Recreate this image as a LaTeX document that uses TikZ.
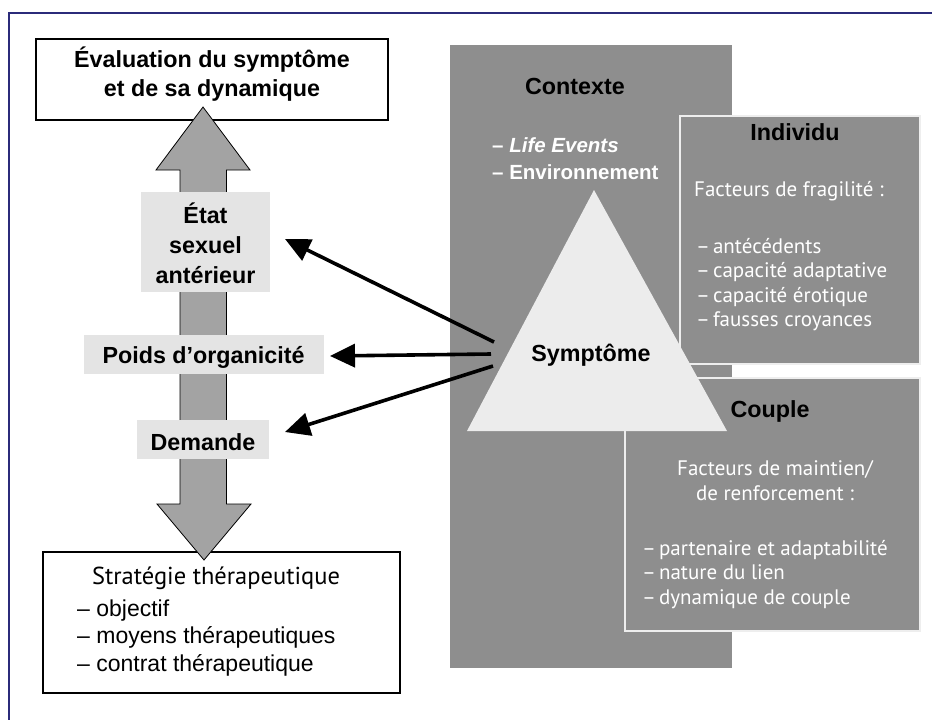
\documentclass[tikz,border=0pt]{standalone}
\usepackage{fontspec}
\setmainfont{Liberation Sans}
\newfontfamily\myr{PT Sans}
\usetikzlibrary{arrows.meta}
\definecolor{frameblue}{HTML}{2B2B7A}
\definecolor{darkbg}{HTML}{8E8E8E}
\definecolor{lightbox}{HTML}{E4E4E4}
\definecolor{trifill}{HTML}{ECECEC}
\definecolor{shaftgray}{HTML}{A3A3A3}
\newcommand{\dsh}{–\kern3pt}
\tikzset{
  bigfont/.style={font=\fontsize{23.3}{29}\selectfont\bfseries},
  ctxfont/.style={font=\fontsize{20.5}{27}\selectfont\bfseries},
  myrfont/.style={font=\myr\fontsize{21}{24.5}\selectfont},
  listfont/.style={font=\fontsize{23}{27.5}\selectfont},
  outbox/.style={draw=black, line width=1.6pt, fill=white, inner sep=0pt},
  lblbox/.style={fill=lightbox, inner sep=0pt},
  panel/.style={fill=darkbg, draw=white!85!darkbg, line width=1.2pt, inner sep=0pt},
  ptr/.style={line width=3.6pt, -{Triangle[length=25pt,width=23pt]}}
}
\begin{document}
\begin{tikzpicture}[x=1pt,y=-1pt]
\useasboundingbox (0,0) rectangle (932,720);
\fill[white] (0,0) rectangle (932,720);
% frame
\draw[frameblue, line width=2pt] (932,13) -- (9,13) -- (9,720);

% right side panels
\node[fill=darkbg, inner sep=0pt, minimum width=282pt, minimum height=623pt] (ctx) at (591,356.5) {};
\node[panel, minimum width=240pt, minimum height=248pt] (indiv) at (800,240) {};
\node[panel, minimum width=295pt, minimum height=253pt] (coupl) at (772.5,504.5) {};
\path[fill=trifill] (594,190) -- (467,431) -- (727,431) -- cycle;

\node[bigfont] (ctxt) at (575,86) {Contexte};
\node[ctxfont, white, anchor=west, align=left, inner sep=0pt] (ctxl) at (492,158.5) {– \textit{Life Events}\\– Environnement};
\node[bigfont] (indt) at (795,132) {Individu};
\node[myrfont, white, anchor=west, inner sep=0pt] (fragt) at (694,191) {Facteurs de fragilité :};
\node[myrfont, white, anchor=west, align=left, inner sep=0pt] (fragl) at (696,284.5) {\dsh antécédents\\\dsh capacité adaptative\\\dsh capacité érotique\\\dsh fausses croyances};
\node[bigfont] (coupt) at (770,411) {Couple};
\node[myrfont, white, align=center] (maint) at (775,480.5) {Facteurs de maintien/\\de renforcement :};
\node[myrfont, white, anchor=west, align=left, inner sep=0pt] (mainl) at (642,574.5) {\dsh partenaire et adaptabilité\\\dsh nature du lien\\\dsh dynamique de couple};
\node[bigfont] (symp) at (591,355) {Symptôme};

% left column
\node[outbox, minimum width=352pt, minimum height=81pt] (evalbox) at (212,79.5) {};
\node[outbox, minimum width=357pt, minimum height=141pt] (stratbox) at (221.5,622.5) {};

% double arrow
\path[fill=shaftgray, draw=black, line width=0.8pt]
  (203,107) -- (250,170) -- (226.5,170) -- (226.5,504) -- (251,504) -- (204,560)
  -- (157,504) -- (180,504) -- (180,170) -- (156,170) -- cycle;

\node[bigfont, align=center] (evalt) at (212,74.5) {Évaluation du symptôme\\et de sa dynamique};
\node[font=\myr\fontsize{24.5}{27.5}\selectfont] (stratt) at (216,578) {Stratégie thérapeutique};
\node[listfont, anchor=west, align=left, inner sep=0pt] (stratl) at (77,638) {– objectif\\– moyens thérapeutiques\\– contrat thérapeutique};

\node[lblbox, minimum width=129pt, minimum height=100pt] (etat) at (205.5,242) {};
\node[align=center, font=\fontsize{23.3}{30}\selectfont\bfseries] (etatt) at (205.5,243) {État\\sexuel\\antérieur};
\node[lblbox, minimum width=240pt, minimum height=39pt] (poids) at (203.5,354.5) {};
\node[bigfont] (poidst) at (203.5,357) {Poids d’organicité};
\node[lblbox, minimum width=132pt, minimum height=39pt] (dem) at (203,439.5) {};
\node[bigfont] (demt) at (203,442) {Demande};

% pointers
\coordinate (s1) at (494,342);
\coordinate (s2) at (491,354);
\coordinate (s3) at (493,366);
\coordinate (e1) at (285,239);
\coordinate (e2) at (330,356);
\coordinate (e3) at (285,432);
\draw[ptr] (s1) -- (e1);
\draw[ptr] (s2) -- (e2);
\draw[ptr] (s3) -- (e3);
\end{tikzpicture}
\end{document}
